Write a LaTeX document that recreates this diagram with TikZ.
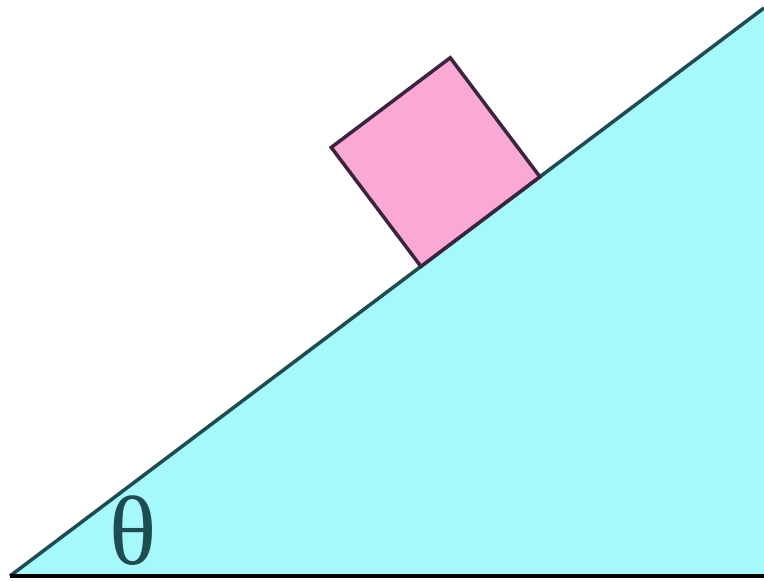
\documentclass[tikz,border=0pt]{standalone}
\usepackage{fontspec}
\setmainfont{Liberation Serif}
\usepackage{tikz}
\usetikzlibrary{calc}
\definecolor{wedgefill}{HTML}{A6F9FB}
\definecolor{wedgeline}{HTML}{1F4C52}
\definecolor{blockfill}{HTML}{F9A9D3}
\definecolor{blockline}{HTML}{3A2440}
\tikzset{
  wedge/.style={fill=wedgefill, draw=none},
  slope/.style={draw=wedgeline, line width=1pt},
  ground/.style={draw=black, line width=1.2pt},
  block/.style={fill=blockfill, draw=blockline, line width=1pt, line join=miter}
}

\begin{document}
\begin{tikzpicture}
  \useasboundingbox (0,0) rectangle (7.64,5.81);
  % Wedge
  \coordinate (O) at (0.10,0.05);
  \coordinate (T) at (7.64,5.73);
  \coordinate (R) at (7.64,0.05);
  \fill[wedge] (O) -- (T) -- (R) -- cycle;
  \draw[slope] (O) -- (T);
  \draw[ground] (O) -- (R);
  % Block on the slope
  \coordinate (A) at ($(O)!0.545!(T)$);
  \draw[block] (A) -- ++(37:1.49) -- ++(127:1.49) -- ++(217:1.49) -- cycle;
  % Angle
  \node[font=\fontsize{28}{30}\selectfont, text=wedgeline, inner sep=0pt] (theta) at (1.33,0.50) {θ};
\end{tikzpicture}
\end{document}
